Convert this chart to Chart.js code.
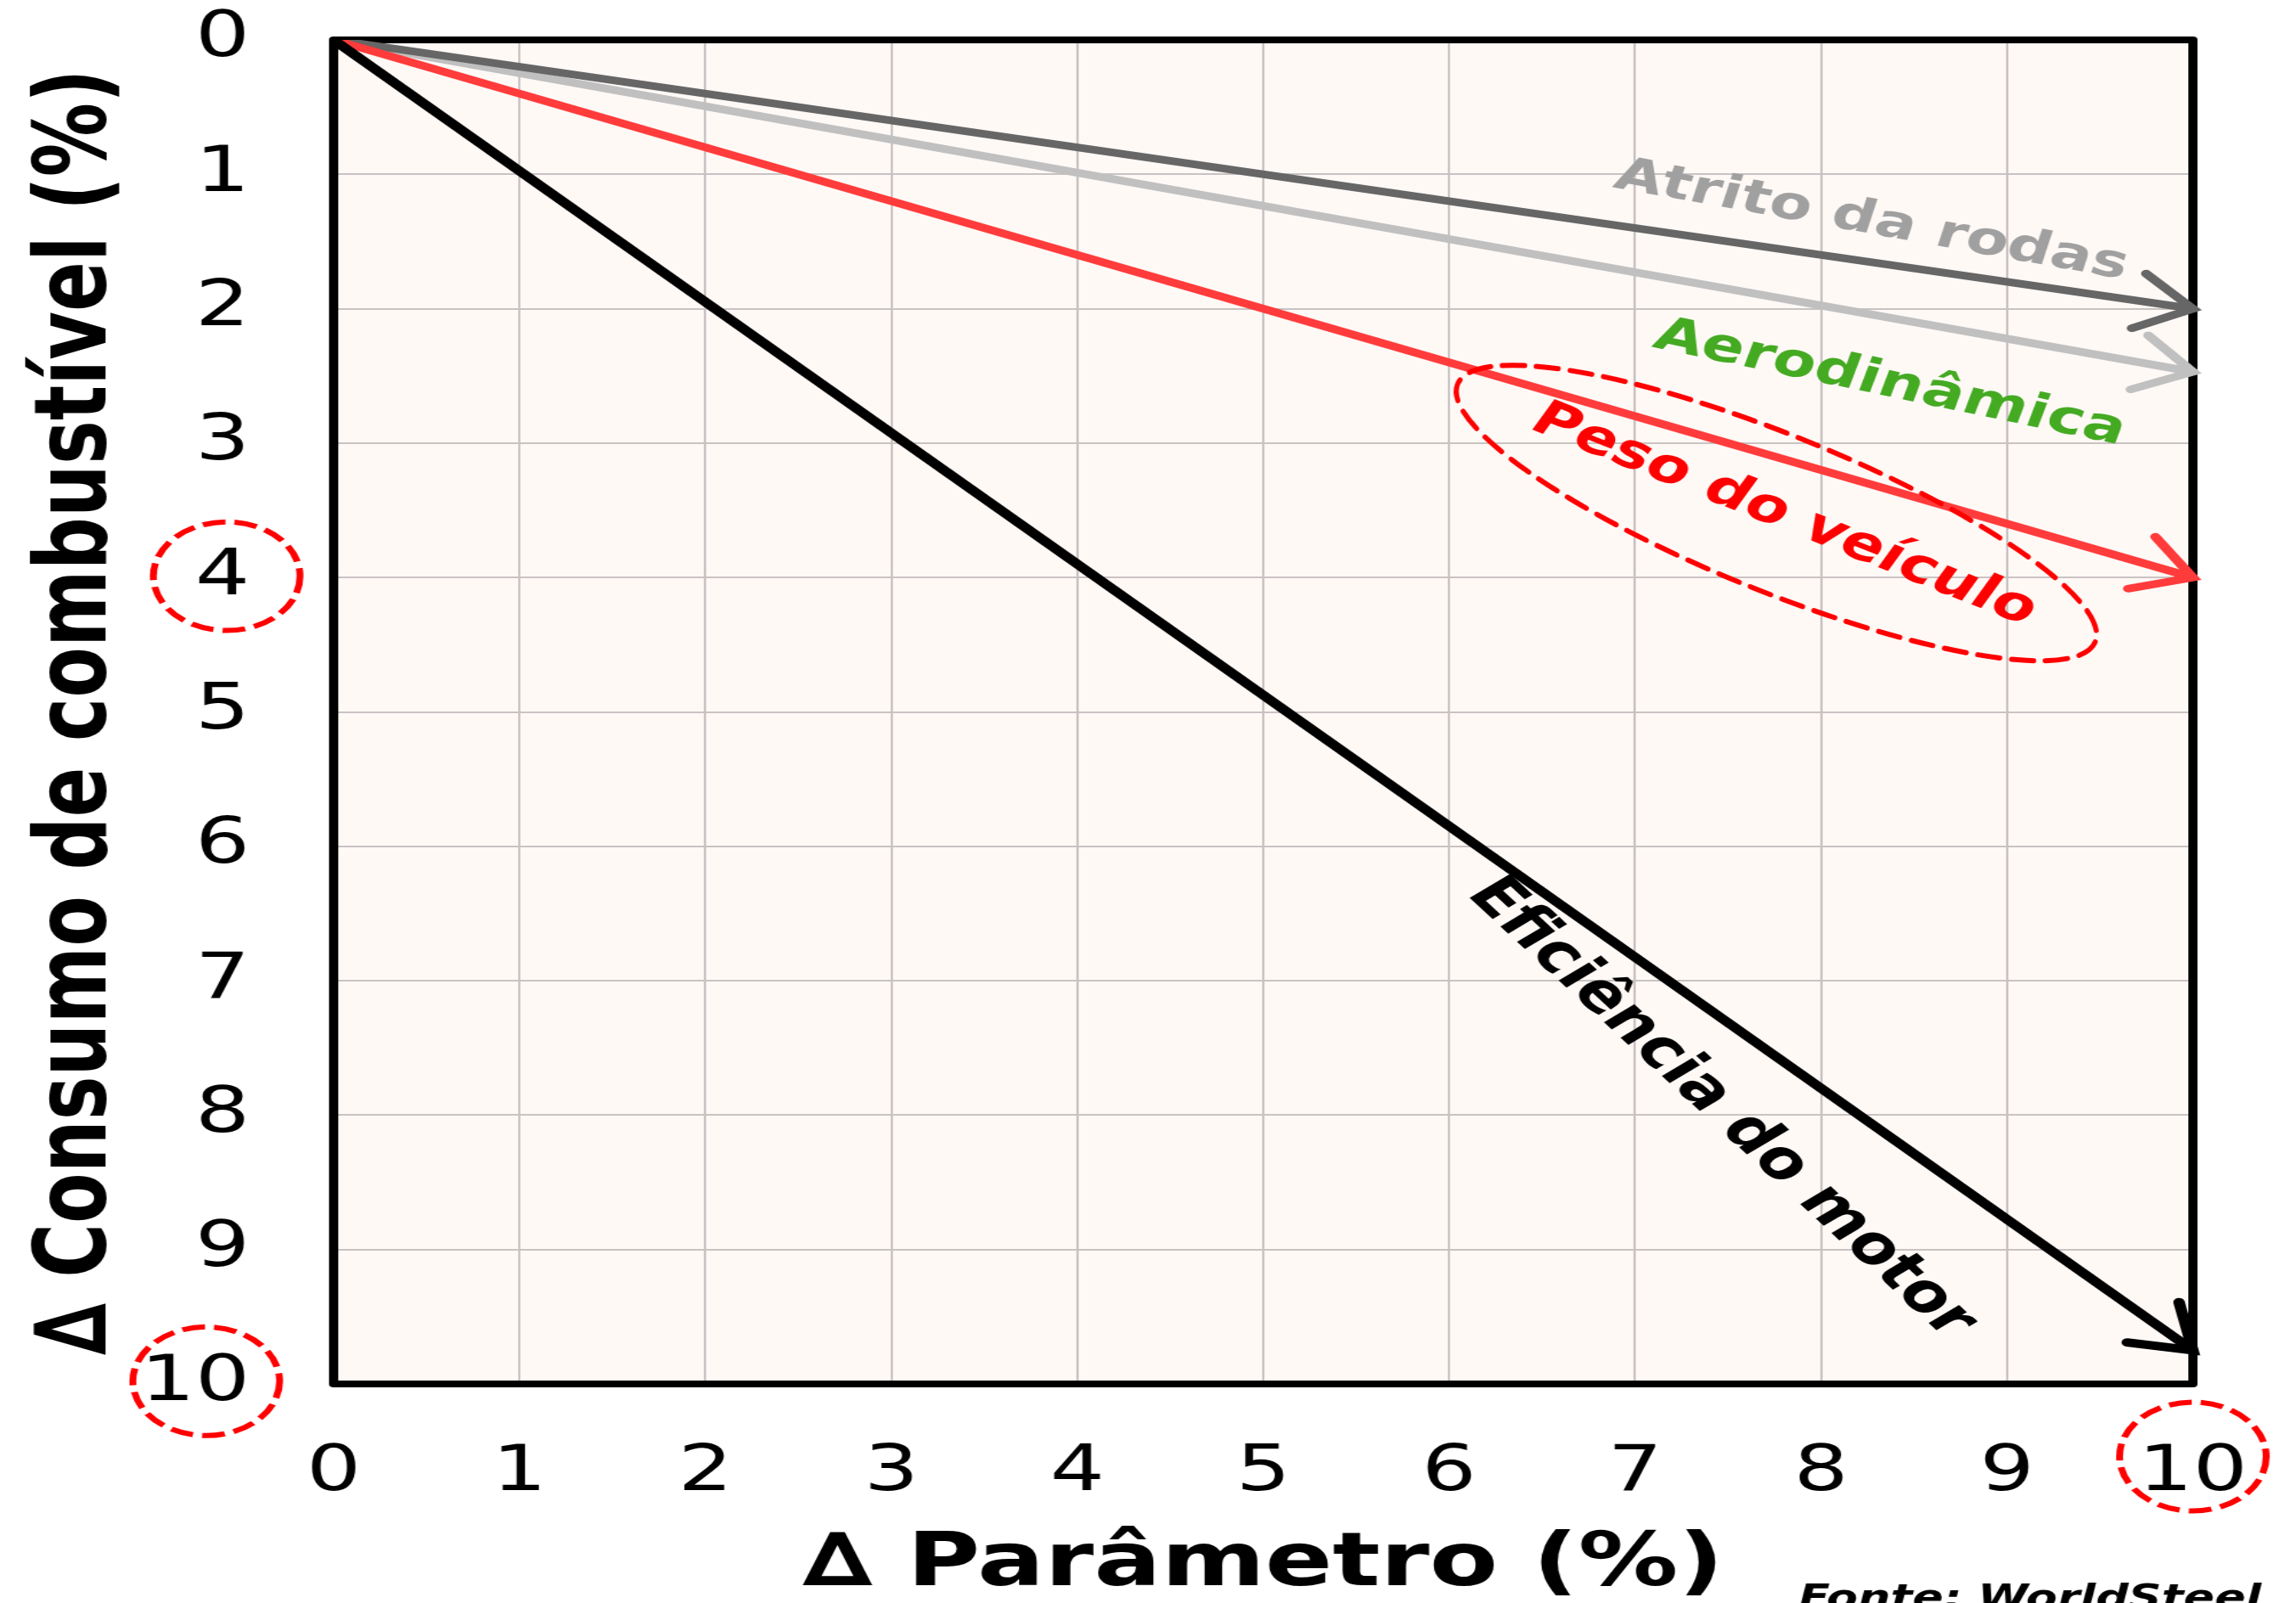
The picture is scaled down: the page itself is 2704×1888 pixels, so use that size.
<!DOCTYPE html>
<html lang="pt">
<head>
  <meta charset="UTF-8">
  <title>Consumo de combustível vs parâmetro</title>
  <script src="https://cdn.jsdelivr.net/npm/chart.js"></script>
  <style>
    html, body {
      margin: 0;
      padding: 0;
      background: #ffffff;
      overflow: hidden;
    }
    /* the reference is stretched sideways, so the chart is drawn narrow and widened */
    #wrap {
      width: 2003px;
      height: 1888px;
      transform: scaleX(1.35);
      transform-origin: 0 0;
    }
  </style>
</head>
<body>
  <div id="wrap"><canvas id="chart"></canvas></div>

  <script>
    const S = 1.35;

    const xValues = [0, 10];
    const motorY = [0, 9.75];
    const pesoY = [0, 4.0];
    const atritoY = [0, 2.0];
    const aeroY = [0, 2.47];

    const seriesNames = ['Eficiência do motor', 'Peso do veículo', 'Atrito da rodas', 'Aerodinâmica'];
    const seriesColors = ['#000000', '#ff3b3b', '#666666', '#c0c0c0'];
    const seriesWidths = [10, 9, 9, 9];

    // text labels sitting on the lines (x, y in axis units, angle as seen in the picture)
    const labelTexts = ['Eficiência do motor', 'Peso do veículo', 'Aerodinâmica', 'Atrito da rodas'];
    const labelColors = ['#000000', '#ff0000', '#44aa22', '#a0a0a0'];
    const labelSizes = [62, 56, 55, 54];
    const labelX = [7.46, 7.8, 8.37, 8.27];
    const labelY = [7.95, 3.54, 2.56, 1.35];
    const labelAngles = [42.8, 21.7, 11.8, 10.2];

    // dashed red circles round some tick labels
    const circleX = [-0.575, -0.685, 10.0];
    const circleY = [3.99, 9.98, 10.54];

    const ySeries = [motorY, pesoY, atritoY, aeroY];

    const datasets = seriesNames.map((name, i) => ({
      label: name,
      data: xValues.map((x, j) => ({ x: x, y: ySeries[i][j] })),
      borderColor: seriesColors[i],
      backgroundColor: seriesColors[i],
      borderWidth: seriesWidths[i],
      showLine: true,
      pointRadius: 0,
      borderCapStyle: 'round'
    }));

    const deg = d => d * Math.PI / 180;
    const inner = d => Math.atan(S * Math.tan(deg(d)));

    const decorations = {
      id: 'decorations',
      beforeDraw(chart) {
        const { ctx, chartArea: a } = chart;
        ctx.save();
        ctx.fillStyle = '#fff9f6';
        ctx.fillRect(a.left, a.top, a.right - a.left, a.bottom - a.top);
        ctx.restore();
      },
      beforeDatasetsDraw(chart) {
        const { ctx, chartArea: a } = chart;
        ctx.save();
        ctx.strokeStyle = '#000000';
        ctx.lineWidth = 8;
        ctx.lineJoin = 'round';
        ctx.strokeRect(a.left, a.top, a.right - a.left, a.bottom - a.top);
        ctx.restore();
      },
      afterDatasetsDraw(chart) {
        const { ctx, scales: { x, y } } = chart;
        ctx.save();

        // open arrow heads at the end of every line
        chart.data.datasets.forEach((ds, i) => {
          const pts = chart.getDatasetMeta(i).data;
          const p1 = pts[pts.length - 2], p2 = pts[pts.length - 1];
          const ang = Math.atan2(p2.y - p1.y, p2.x - p1.x);
          const len = 58;
          ctx.strokeStyle = ds.borderColor;
          ctx.lineWidth = ds.borderWidth;
          ctx.lineCap = 'round';
          ctx.lineJoin = 'miter';
          ctx.beginPath();
          ctx.moveTo(p2.x - len * Math.cos(ang - 0.6), p2.y - len * Math.sin(ang - 0.6));
          ctx.lineTo(p2.x, p2.y);
          ctx.lineTo(p2.x - len * Math.cos(ang + 0.6), p2.y - len * Math.sin(ang + 0.6));
          ctx.stroke();
        });

        // rotated labels
        ctx.textAlign = 'center';
        ctx.textBaseline = 'middle';
        labelTexts.forEach((t, i) => {
          ctx.save();
          ctx.translate(x.getPixelForValue(labelX[i]), y.getPixelForValue(labelY[i]));
          ctx.rotate(inner(labelAngles[i]));
          ctx.font = 'bold ' + labelSizes[i] + 'px "DejaVu Sans"';
          ctx.fillStyle = labelColors[i];
          ctx.fillText(t, 0, 0);
          ctx.restore();
        });

        // dashed ellipse round "Peso do veículo", drawn in picture space
        ctx.save();
        ctx.scale(1 / S, 1);
        ctx.strokeStyle = '#ff0000';
        ctx.lineWidth = 6;
        ctx.setLineDash([26, 14]);
        ctx.beginPath();
        ctx.ellipse(x.getPixelForValue(7.76) * S, y.getPixelForValue(3.52), 405, 92, deg(22), 0, Math.PI * 2);
        ctx.stroke();
        ctx.restore();
        ctx.restore();
      },
      afterDraw(chart) {
        const { ctx, scales: { x, y } } = chart;
        ctx.save();
        ctx.strokeStyle = '#ff0000';
        ctx.lineWidth = 6;
        ctx.setLineDash([20, 8]);
        circleX.forEach((cx, i) => {
          ctx.beginPath();
          ctx.arc(x.getPixelForValue(cx), y.getPixelForValue(circleY[i]), 64, 0, Math.PI * 2);
          ctx.stroke();
        });
        ctx.setLineDash([]);
        ctx.fillStyle = '#000000';
        ctx.font = 'italic bold 40px "DejaVu Sans"';
        ctx.textAlign = 'left';
        ctx.textBaseline = 'alphabetic';
        ctx.fillText('Fonte: WorldSteel', 1569, 1895);
        ctx.restore();
      }
    };

    const tickFont = { family: 'DejaVu Sans', size: 75 };
    const titleFont = { family: 'DejaVu Sans', size: 87, weight: 'bold', lineHeight: 1 };

    new Chart(document.getElementById('chart'), {
      type: 'scatter',
      data: { datasets: datasets },
      plugins: [decorations],
      options: {
        responsive: true,
        maintainAspectRatio: false,
        animation: false,
        events: [],
        layout: { padding: { left: 0, right: 90, top: 47, bottom: 0 } },
        plugins: {
          legend: { display: false },
          tooltip: { enabled: false }
        },
        scales: {
          x: {
            type: 'linear',
            min: 0,
            max: 10,
            ticks: { stepSize: 1, color: '#000000', font: tickFont, padding: 61 },
            grid: { color: '#c9c2c2', lineWidth: 2, drawTicks: false },
            border: { display: false },
            title: { display: true, text: '∆ Parâmetro (%)', color: '#000000', font: titleFont, padding: 0 },
            afterFit: s => { s.height = 258; s.paddingLeft = 0; s.paddingRight = 0; }
          },
          y: {
            type: 'linear',
            reverse: true,
            min: 0,
            max: 10,
            ticks: { stepSize: 1, color: '#000000', font: tickFont, padding: 73 },
            grid: { color: '#c9c2c2', lineWidth: 2, drawTicks: false },
            border: { display: false },
            title: { display: true, text: '∆ Consumo de combustível (%)', color: '#000000', font: titleFont, padding: { top: 26, bottom: 0 } },
            afterFit: s => { s.width = 291; s.paddingTop = 0; s.paddingBottom = 0; }
          }
        }
      }
    });
  </script>
</body>
</html>
